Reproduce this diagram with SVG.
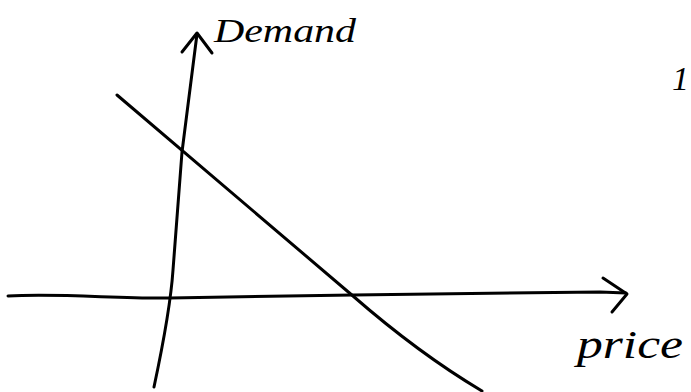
<svg xmlns="http://www.w3.org/2000/svg" width="691" height="392" viewBox="0 0 691 392">
<style>
.ink{fill:none;stroke:#000;stroke-width:3;stroke-linecap:round;stroke-linejoin:round}
.hand{font-family:"Liberation Serif",serif;font-style:italic;fill:#000}
</style>
<rect width="691" height="392" fill="#fff"/>
<g id="connectors">
<g id="y-axis">
<path class="ink" d="M154,387 C164,340 171,300 173,270 L182,152 L197,34"/>
<path class="ink" d="M182,52 L197,33 L212,53"/>
</g>
<g id="x-axis">
<path class="ink" d="M8,296 C60,293 120,299 170,298 L353,295 L600,292 L626,293"/>
<path class="ink" d="M603,278 L627,294 L612,312"/>
</g>
<g id="demand-curve">
<path class="ink" d="M117,95 L353,296 C400,337 440,366 482,391"/>
</g>
</g>
<g id="label-demand"><text class="hand" x="214" y="42" font-size="34" textLength="142" lengthAdjust="spacingAndGlyphs">Demand</text></g>
<g id="label-price"><text class="hand" x="577" y="358" font-size="40" textLength="106" lengthAdjust="spacingAndGlyphs">price</text></g>
<g id="page-number"><text class="hand" x="689" y="90" font-size="34" text-anchor="end">1</text></g>
</svg>
